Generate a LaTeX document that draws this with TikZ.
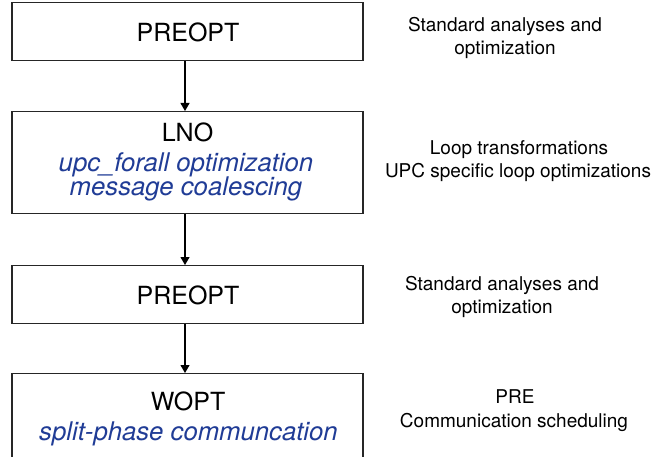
\documentclass[tikz,border=0pt]{standalone}
\usepackage{fontspec}
\setmainfont{TeX Gyre Heros}
\usetikzlibrary{arrows.meta}
\definecolor{optblue}{RGB}{32,60,150}
\tikzset{
  phase/.style={draw=black!85, line width=1.1pt, minimum width=351pt, inner sep=0pt, anchor=north},
  boxtxt/.style={font=\fontsize{25}{28}\selectfont, anchor=base, inner sep=0pt},
  subtxt/.style={boxtxt, text=optblue, font=\fontsize{25.7}{28}\selectfont\itshape},
  note/.style={font=\fontsize{19}{22}\selectfont, anchor=base, inner sep=0pt},
  flow/.style={draw=black, line width=1.1pt, -{Triangle[length=8pt,width=9pt]}}
}
\begin{document}
\begin{tikzpicture}[x=1pt,y=-1pt]
\useasboundingbox (0,0) rectangle (655,457);
\clip (0,0) rectangle (655,457);
\fill[white] (0,0) rectangle (655,457);

% compiler phases
\node[phase, minimum height=58pt]  (b1) at (187.5,2)   {};
\node[phase, minimum height=102pt] (b2) at (187.5,111) {};
\node[phase, minimum height=58pt]  (b3) at (187.5,265) {};
\node[phase, minimum height=100pt] (b4) at (187.5,373) {};

\node[boxtxt] (t1)  at (188,41.7) {PREOPT};
\node[boxtxt] (t2)  at (187.5,141.7) {LNO};
\node[subtxt] (t2a) at (186,171.7) {upc\_forall optimization};
\node[subtxt] (t2b) at (186,195) {message coalescing};
\node[boxtxt] (t3)  at (188,304) {PREOPT};
\node[boxtxt] (t4)  at (188,410) {WOPT};
\node[subtxt] (t4a) at (188.5,440) {split-phase communcation};

% flow between phases
\draw[flow] ([xshift=-2.5pt]b1.south) -- ([xshift=-2.5pt]b2.north);
\draw[flow] ([xshift=-2.5pt]b2.south) -- ([xshift=-2.5pt]b3.north);
\draw[flow] ([xshift=-2.5pt]b3.south) -- ([xshift=-2.5pt]b4.north);

% descriptions
\node[note] (n1a) at (505,31.7) {Standard analyses and};
\node[note] (n1b) at (505,55) {optimization};
\node[note] (n2a) at (519,155) {Loop transformations};
\node[note] (n2b) at (518,178) {UPC specific loop optimizations};
\node[note] (n3a) at (502,290) {Standard analyses and};
\node[note] (n3b) at (502,313) {optimization};
\node[note] (n4a) at (515,403) {PRE};
\node[note] (n4b) at (514,427) {Communication scheduling};
\end{tikzpicture}
\end{document}
